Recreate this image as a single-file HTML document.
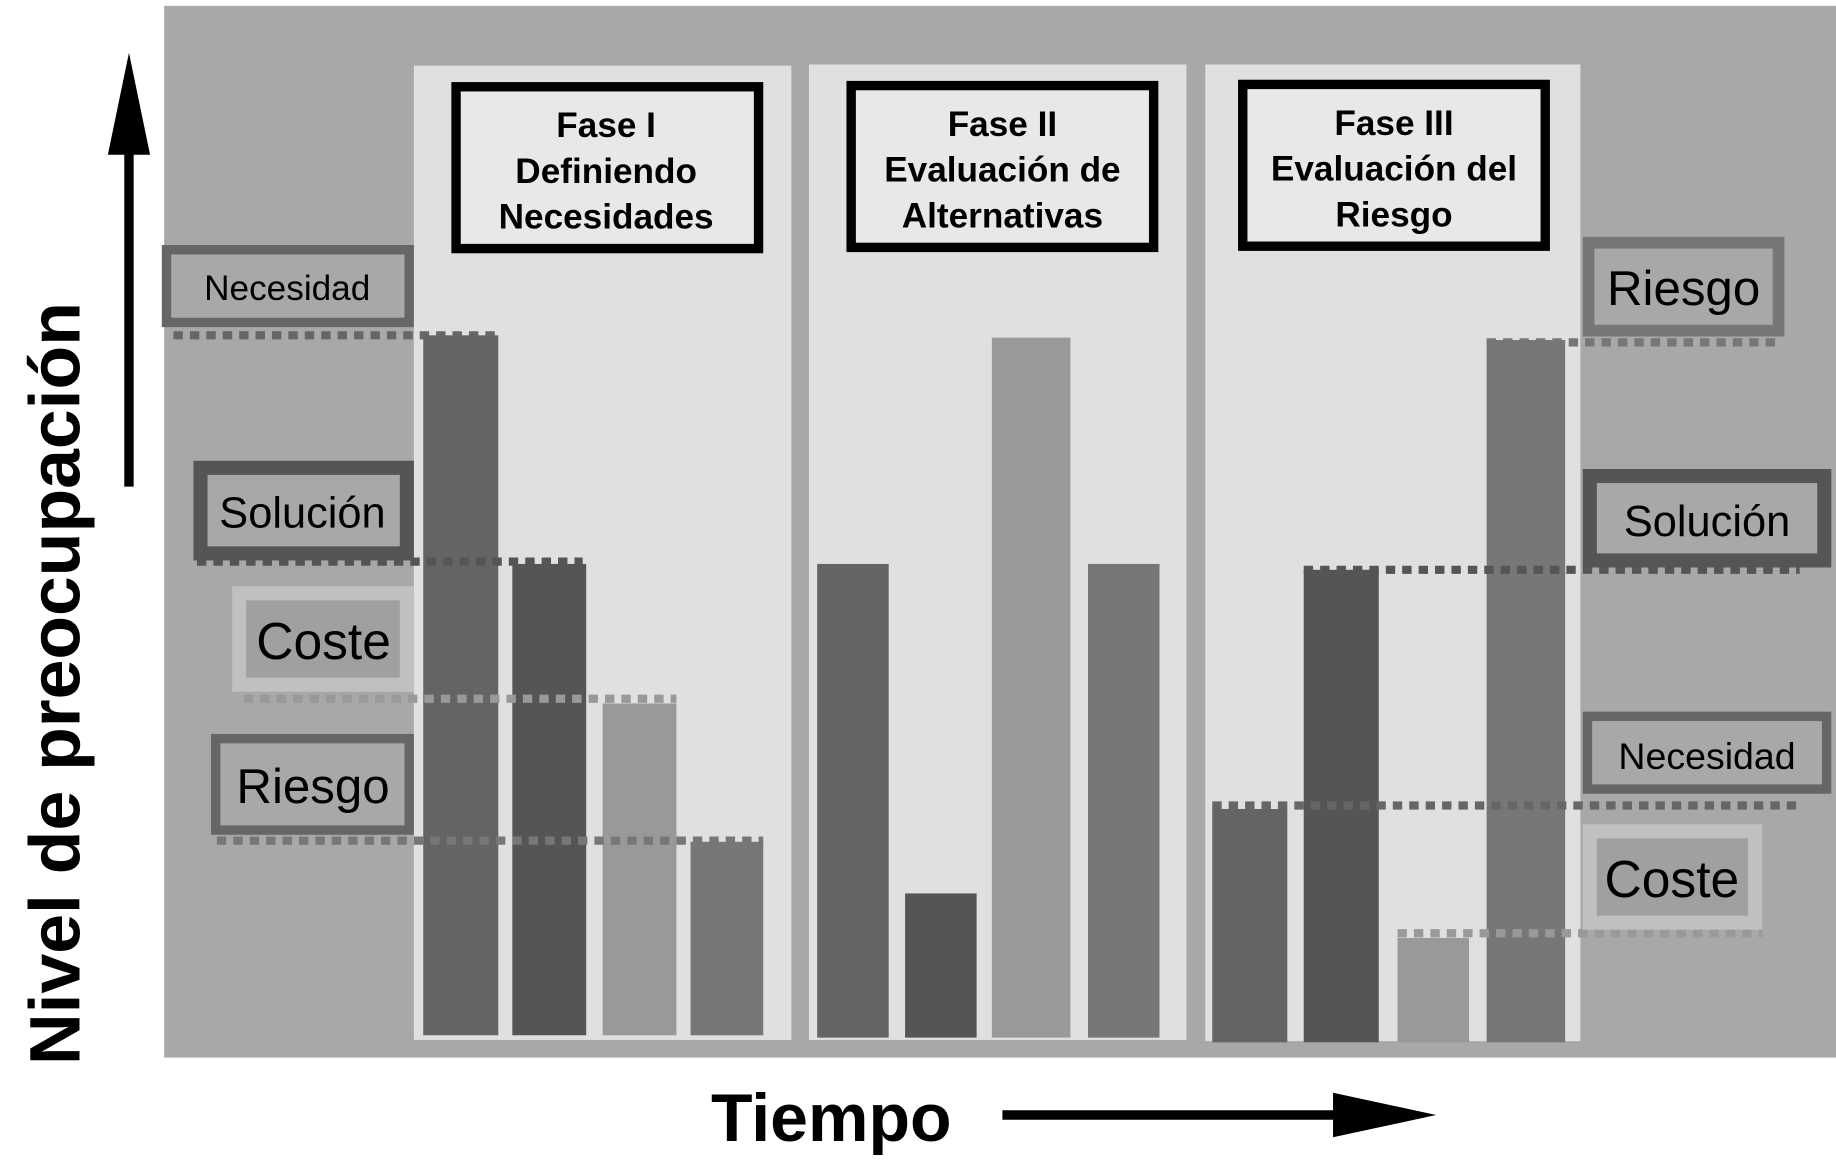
<!DOCTYPE html>
<html><head><meta charset="utf-8"><style>
html,body{margin:0;padding:0;background:#fff;}
svg{display:block;}
text{font-family:"Liberation Sans",Arial,sans-serif;}
</style></head><body>
<svg width="1836" height="1166" viewBox="0 0 1566 994.5" preserveAspectRatio="none" xmlns="http://www.w3.org/2000/svg">
<rect x="140" y="5" width="1426" height="897" fill="#a8a8a8"/>
<rect x="353" y="56" width="322" height="831" fill="#e0e0e0"/>
<rect x="690" y="55" width="322" height="832" fill="#e0e0e0"/>
<rect x="1028" y="55" width="320" height="833" fill="#e0e0e0"/>
<g fill="#e8e8e8" stroke="#000" stroke-width="8">
<rect x="389" y="74" width="258" height="138"/>
<rect x="726" y="73" width="258" height="138"/>
<rect x="1060" y="72" width="258" height="138"/>
</g>
<g font-weight="bold" font-size="30" text-anchor="middle" fill="#000">
<text x="517" y="117">Fase I</text><text x="517" y="156">Definiendo</text><text x="517" y="195">Necesidades</text>
<text x="855" y="116">Fase II</text><text x="855" y="155">Evaluación de</text><text x="855" y="194">Alternativas</text>
<text x="1189" y="115">Fase III</text><text x="1189" y="154">Evaluación del</text><text x="1189" y="193">Riesgo</text>
</g>
<rect x="361" y="286" width="64" height="597" fill="#646464"/>
<rect x="437" y="481" width="63" height="402" fill="#555"/>
<rect x="514" y="600" width="63" height="283" fill="#999"/>
<rect x="589" y="718" width="62" height="165" fill="#777"/>
<rect x="697" y="481" width="61" height="404" fill="#646464"/>
<rect x="772" y="762" width="61" height="123" fill="#555"/>
<rect x="846" y="288" width="67" height="597" fill="#999"/>
<rect x="928" y="481" width="61" height="404" fill="#777"/>
<rect x="1034" y="690" width="64" height="199" fill="#646464"/>
<rect x="1112" y="486" width="64" height="403" fill="#555"/>
<rect x="1192" y="800" width="61" height="89" fill="#999"/>
<rect x="1268" y="290" width="67" height="599" fill="#777"/>
<g stroke-width="7" stroke-dasharray="8,6" fill="none">
<line x1="148" y1="286" x2="425" y2="286" stroke="#666"/>
<line x1="168" y1="479" x2="497" y2="479" stroke="#555"/>
<line x1="208" y1="596" x2="577" y2="596" stroke="#999"/>
<line x1="185" y1="717" x2="651" y2="717" stroke="#777"/>
<line x1="1268" y1="292" x2="1520" y2="292" stroke="#777"/>
<line x1="1112" y1="486" x2="1535" y2="486" stroke="#555"/>
<line x1="1034" y1="687" x2="1535" y2="687" stroke="#666"/>
<line x1="1192" y1="796" x2="1503" y2="796" stroke="#999"/>
</g>
<rect x="142" y="213" width="207" height="62" fill="#a8a8a8" stroke="#666" stroke-width="8"/>
<text x="245" y="256" font-size="30" text-anchor="middle">Necesidad</text>
<rect x="171" y="399" width="176" height="73" fill="#a8a8a8" stroke="#555" stroke-width="12"/>
<text x="258" y="450" font-size="37" text-anchor="middle">Solución</text>
<rect x="204" y="506" width="143" height="78" fill="#a0a0a0" stroke="#c0c0c0" stroke-width="12"/>
<text x="276" y="562" font-size="44" text-anchor="middle">Coste</text>
<rect x="184" y="630" width="165" height="78" fill="#a8a8a8" stroke="#666" stroke-width="8"/>
<text x="267" y="685" font-size="42" text-anchor="middle">Riesgo</text>
<rect x="1355" y="207" width="162" height="75" fill="#a8a8a8" stroke="#777" stroke-width="10"/>
<text x="1436" y="260" font-size="42" text-anchor="middle">Riesgo</text>
<rect x="1356" y="406" width="200" height="72" fill="#a8a8a8" stroke="#555" stroke-width="12"/>
<text x="1456" y="457" font-size="37" text-anchor="middle">Solución</text>
<rect x="1354" y="611" width="204" height="62" fill="#a8a8a8" stroke="#666" stroke-width="8"/>
<text x="1456" y="656" font-size="32" text-anchor="middle">Necesidad</text>
<rect x="1356" y="709" width="141" height="78" fill="#a0a0a0" stroke="#c0c0c0" stroke-width="12"/>
<text x="1426" y="765" font-size="44" text-anchor="middle">Coste</text>
<line x1="110" y1="415" x2="110" y2="125" stroke="#000" stroke-width="8"/>
<polygon points="110,45 92,132 128,132" fill="#000"/>
<text transform="translate(68,583) rotate(-90)" font-size="61" font-weight="bold" text-anchor="middle">Nivel de preocupación</text>
<text x="709" y="973" font-size="58" font-weight="bold" text-anchor="middle">Tiempo</text>
<line x1="855" y1="951" x2="1145" y2="951" stroke="#000" stroke-width="8"/>
<polygon points="1225,951 1137,932 1137,970" fill="#000"/>
</svg>
</body></html>
